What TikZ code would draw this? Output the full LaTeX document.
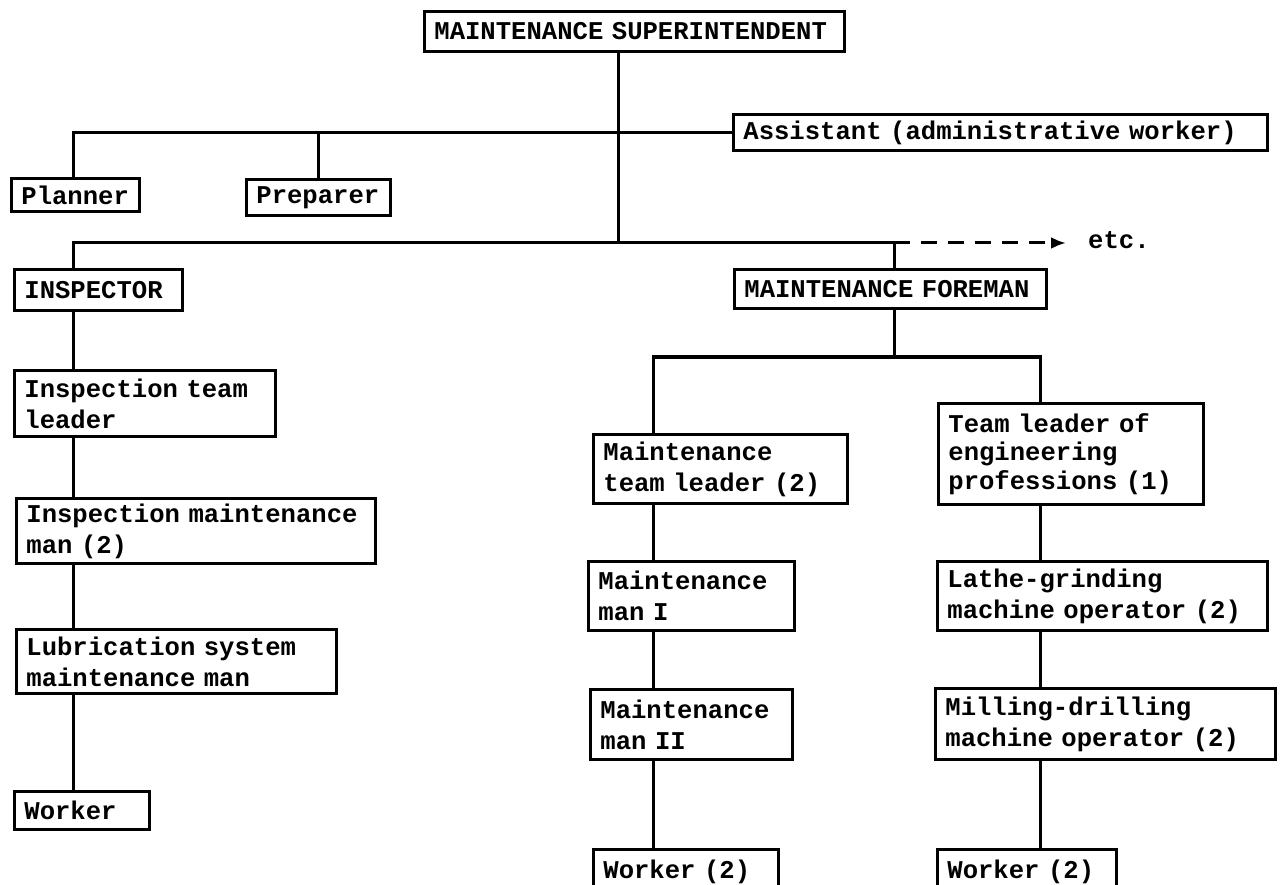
\documentclass[tikz,border=0pt]{standalone}
\usepackage{fontspec}
\newfontfamily\tw{Liberation Mono}
\newcommand\twfont{\tw\bfseries\fontsize{25.6}{31}\selectfont\fontdimen2\font=0.6em\fontdimen3\font=0pt\fontdimen4\font=0pt\relax}
\usetikzlibrary{arrows.meta}
\tikzset{
  box/.style={draw, line width=2.8pt, anchor=north west, inner xsep=10pt, inner ysep=0pt,
    align=left, font=\twfont},
  conn/.style={line width=3pt},
  dashconn/.style={line width=3pt, dash pattern=on 16pt off 11pt, -{Latex[length=15pt,width=12pt]}},
  lbl/.style={font=\twfont, inner sep=0pt, anchor=west},
}
\begin{document}
\begin{tikzpicture}[x=1pt,y=-1pt]
\useasboundingbox (0,0) rectangle (1280,885);
% column and level coordinates
\coordinate (xS) at (618,0);
\coordinate (xL) at (73,0);
\coordinate (xP) at (318,0);
\coordinate (xF) at (894,0);
\coordinate (xM) at (653,0);
\coordinate (xR) at (1040,0);
\coordinate (yB) at (0,243);
\coordinate (yC) at (0,357);
\coordinate (tip) at (1066,243);
% boxes
\node[box, text width=400pt, minimum height=40pt] (super) at (423,10) {MAINTENANCE SUPERINTENDENT};
\node[box, text width=514pt, minimum height=36pt] (assist) at (732,113) {Assistant (administrative worker)};
\node[box, text width=108pt, minimum height=33pt] (planner) at (10,177) {Planner};
\node[box, text width=124pt, minimum height=36pt] (preparer) at (245,178) {Preparer};
\node[box, text width=148pt, minimum height=41pt] (inspector) at (13,268) {INSPECTOR};
\node[box, text width=292pt, minimum height=39pt] (foreman) at (733,268) {MAINTENANCE FOREMAN};
\node[box, text width=241pt, minimum height=66pt] (itl) at (13,369) {Inspection team\\leader};
\node[box, text width=339pt, minimum height=65pt] (imm) at (15,497) {Inspection maintenance\\man (2)};
\node[box, text width=300pt, minimum height=64pt] (lub) at (15,628) {Lubrication system\\maintenance man};
\node[box, text width=115pt, minimum height=38pt] (wL) at (13,790) {Worker};
\node[box, text width=234pt, minimum height=69pt] (mtl) at (592,433) {Maintenance\\team leader (2)};
\node[box, text width=245pt, minimum height=101pt, font=\twfont\fontsize{25.6}{28.5}\selectfont] (tlep) at (937,402) {Team leader of\\engineering\\professions (1)};
\node[box, text width=186pt, minimum height=69pt] (mm1) at (587,560) {Maintenance\\man I};
\node[box, text width=310pt, minimum height=69pt] (lathe) at (936,560) {Lathe-grinding\\machine operator (2)};
\node[box, text width=182pt, minimum height=70pt] (mm2) at (589,688) {Maintenance\\man II};
\node[box, text width=320pt, minimum height=71pt] (mill) at (934,687) {Milling-drilling\\machine operator (2)};
\node[box, text width=165pt, minimum height=44pt] (wM) at (592,848) {Worker (2)};
\node[box, text width=159pt, minimum height=44pt] (wR) at (936,848) {Worker (2)};
\node[lbl] (etc) at (1088,240) {etc.};
% connectors
\draw[conn] (xS |- super.south) -- (xS |- yB);
\draw[conn] (assist.west) -- (xL |- assist.west) -- (xL |- planner.north);
\draw[conn] (xP |- assist.west) -- (xP |- preparer.north);
\draw[conn] (xL |- inspector.north) -- (xL |- yB) -- (xF |- yB) -- (xF |- foreman.north);
\draw[dashconn] (xF |- yB) -- (tip);
\draw[conn] (xL |- inspector.south) -- (xL |- itl.north);
\draw[conn] (xL |- itl.south) -- (xL |- imm.north);
\draw[conn] (xL |- imm.south) -- (xL |- lub.north);
\draw[conn] (xL |- lub.south) -- (xL |- wL.north);
\draw[conn] (xF |- foreman.south) -- (xF |- yC);
\draw[conn] (xM |- mtl.north) -- (xM |- yC) -- (xR |- yC) -- (xR |- tlep.north);
\draw[conn] (xM |- mtl.south) -- (xM |- mm1.north);
\draw[conn] (xM |- mm1.south) -- (xM |- mm2.north);
\draw[conn] (xM |- mm2.south) -- (xM |- wM.north);
\draw[conn] (xR |- tlep.south) -- (xR |- lathe.north);
\draw[conn] (xR |- lathe.south) -- (xR |- mill.north);
\draw[conn] (xR |- mill.south) -- (xR |- wR.north);
\end{tikzpicture}
\end{document}
